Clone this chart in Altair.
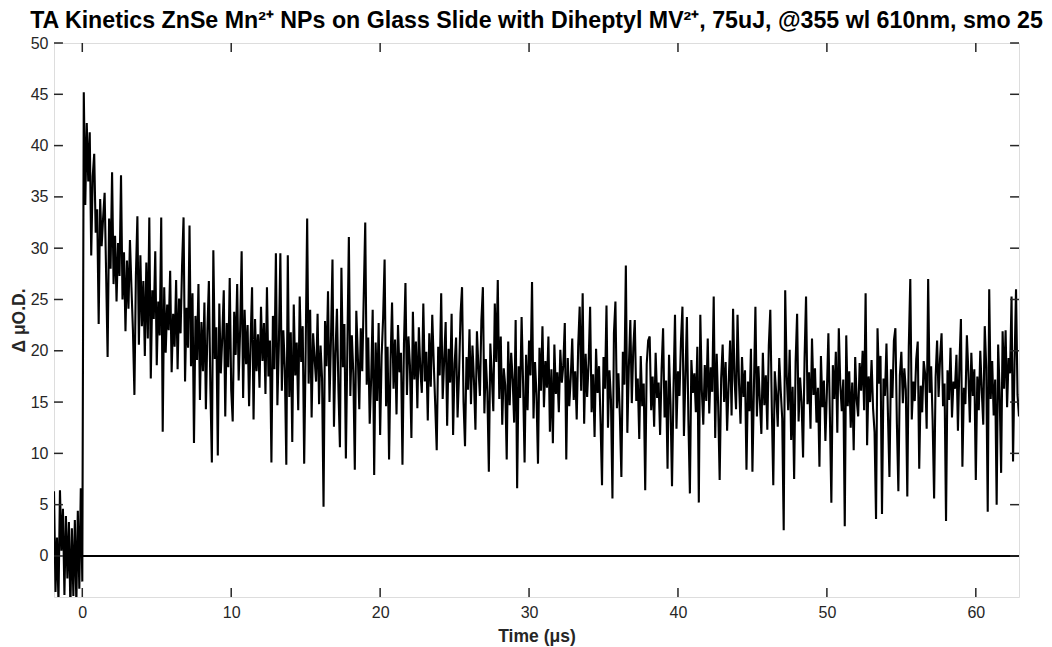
import altair as alt
import pandas as pd

title_text = "TA Kinetics ZnSe Mn²⁺ NPs on Glass Slide with Diheptyl MV²⁺, 75uJ, @355 wl 610nm, smo 25"
x_label = "Time (μs)"
y_label = "Δ μO.D."
x_ticks = [0, 10, 20, 30, 40, 50, 60]
y_ticks = [0, 5, 10, 15, 20, 25, 30, 35, 40, 45, 50]
x_domain = [-1.9, 62.9]
y_domain = [-4, 50]
dt = 0.1

# (start time in µs, Δ µO.D. values sampled every dt)
od_rows = [
    (-1.9, [6.3, -3.5, 1.8, -4.5, 6.4, 0.5, 4.6, -3.8, 3.9, -2.2]),
    (-0.9, [3.3, -5.0, 2.7, -3.9, 3.5, -4.6, 4.4, -3.2, 6.6, -2.5]),
    (0.1, [45.2, 34.2, 42.2, 36.5, 41.3, 29.3, 37.0, 39.2, 31.5, 33.8]),
    (1.1, [22.6, 34.8, 30.2, 33.0, 35.4, 27.5, 19.4, 32.9, 28.0, 37.4]),
    (2.1, [26.5, 31.2, 24.8, 30.5, 27.3, 37.1, 25.0, 29.6, 21.9, 28.8]),
    (3.1, [24.1, 30.8, 26.2, 22.0, 15.7, 27.4, 33.1, 20.6, 29.3, 22.4]),
    (4.1, [26.8, 19.5, 28.6, 21.2, 33.0, 17.3, 25.9, 23.1, 29.7, 18.6]),
    (5.1, [24.8, 21.5, 33.0, 12.1, 26.2, 19.8, 24.5, 22.0, 27.8, 17.9]),
    (6.1, [23.6, 20.4, 26.9, 18.2, 25.1, 21.7, 28.3, 33.0, 17.0, 24.2]),
    (7.1, [20.3, 32.2, 18.5, 25.6, 11.0, 23.4, 19.1, 26.5, 15.2, 22.8]),
    (8.1, [18.0, 24.7, 14.3, 21.9, 26.8, 16.5, 9.1, 29.8, 19.2, 22.3]),
    (9.1, [9.8, 24.6, 17.8, 21.3, 25.9, 13.6, 22.7, 18.4, 27.1, 16.2]),
    (10.1, [13.1, 23.8, 19.6, 26.5, 17.1, 22.1, 29.7, 15.4, 24.0, 18.7]),
    (11.1, [22.5, 14.6, 20.9, 26.2, 13.3, 23.1, 18.0, 21.6, 16.4, 24.3]),
    (12.1, [19.0, 22.7, 15.8, 26.2, 17.5, 21.0, 9.1, 23.4, 18.2, 29.5]),
    (13.1, [14.7, 20.6, 29.5, 16.1, 22.0, 18.3, 8.9, 29.3, 15.5, 21.8]),
    (14.1, [11.1, 24.5, 17.6, 20.8, 14.2, 25.3, 18.9, 22.4, 9.0, 20.1]),
    (15.1, [32.9, 16.8, 24.0, 13.5, 21.7, 19.2, 17.0, 23.6, 14.8, 20.5]),
    (16.1, [17.3, 4.8, 22.9, 18.5, 25.8, 15.0, 21.2, 28.9, 12.6, 19.7]),
    (17.1, [24.1, 16.2, 10.6, 28.1, 18.4, 22.6, 9.5, 20.3, 31.1, 15.6]),
    (18.1, [21.5, 17.8, 8.4, 23.9, 19.6, 14.3, 22.2, 18.0, 25.4, 32.5]),
    (19.1, [16.7, 21.3, 12.9, 17.4, 24.0, 7.9, 20.8, 15.1, 22.7, 11.8]),
    (20.1, [19.5, 23.2, 28.9, 14.6, 20.4, 9.4, 18.9, 24.7, 16.3, 21.1]),
    (21.1, [13.8, 22.5, 17.9, 19.8, 8.9, 20.6, 26.6, 15.7, 21.4, 18.6]),
    (22.1, [11.5, 23.8, 17.2, 20.9, 14.4, 22.3, 18.1, 15.9, 24.6, 17.0]),
    (23.1, [19.9, 13.2, 21.7, 16.5, 23.5, 18.8, 14.7, 10.3, 20.4, 17.6]),
    (24.1, [25.6, 15.3, 19.1, 22.8, 12.7, 20.2, 16.9, 23.6, 11.8, 18.7]),
    (25.1, [21.3, 13.5, 17.8, 23.6, 26.2, 15.0, 10.7, 19.4, 16.2, 22.1]),
    (26.1, [14.8, 20.5, 17.1, 12.3, 21.9, 18.4, 15.6, 23.0, 26.2, 13.9]),
    (27.1, [19.2, 16.0, 8.2, 20.7, 17.5, 14.1, 24.6, 18.9, 26.9, 15.3]),
    (28.1, [21.4, 12.8, 18.3, 16.6, 9.4, 20.9, 14.7, 19.8, 17.2, 13.0]),
    (29.1, [23.0, 6.6, 18.5, 15.4, 23.3, 16.8, 9.1, 19.6, 14.2, 21.0]),
    (30.1, [17.6, 26.7, 13.4, 18.9, 15.7, 9.0, 20.3, 16.1, 22.4, 14.5]),
    (31.1, [19.0, 16.4, 21.4, 12.1, 18.2, 11.0, 20.6, 15.8, 17.9, 14.0]),
    (32.1, [20.1, 16.9, 18.6, 22.7, 9.4, 19.3, 14.6, 17.4, 21.2, 15.2]),
    (33.1, [18.0, 13.3, 20.5, 24.3, 16.1, 25.6, 12.9, 19.7, 15.5, 18.8]),
    (34.1, [24.3, 14.0, 17.7, 11.6, 20.2, 15.9, 18.5, 13.1, 6.9, 19.4]),
    (35.1, [16.3, 24.4, 12.5, 18.1, 15.2, 5.6, 21.7, 24.8, 14.4, 17.8]),
    (36.1, [13.6, 7.7, 19.9, 16.7, 28.3, 12.0, 18.4, 23.0, 14.9, 20.3]),
    (37.1, [23.0, 15.1, 17.3, 11.4, 19.5, 14.6, 16.8, 6.4, 18.7, 21.0]),
    (38.1, [21.4, 14.2, 17.5, 12.6, 19.8, 15.4, 16.9, 11.8, 18.2, 22.2]),
    (39.1, [13.5, 17.1, 8.5, 19.6, 14.8, 6.8, 16.3, 23.5, 12.4, 18.0]),
    (40.1, [15.6, 20.9, 24.3, 11.7, 17.4, 23.3, 13.2, 6.1, 19.1, 15.9]),
    (41.1, [17.8, 14.0, 20.4, 5.2, 23.5, 16.2, 12.8, 18.6, 15.1, 21.2]),
    (42.1, [13.9, 18.4, 16.0, 25.3, 11.5, 19.7, 14.6, 7.4, 17.3, 20.6]),
    (43.1, [15.0, 18.9, 12.2, 16.6, 21.0, 13.7, 24.1, 17.2, 14.3, 23.5]),
    (44.1, [16.8, 12.9, 19.4, 15.5, 18.1, 8.4, 17.0, 14.1, 20.2, 8.2]),
    (45.1, [16.4, 24.3, 13.6, 18.5, 15.1, 11.9, 19.8, 14.7, 17.6, 12.3]),
    (46.1, [20.5, 24.0, 14.5, 6.9, 18.0, 15.8, 12.6, 19.3, 16.1, 13.4]),
    (47.1, [2.5, 25.9, 17.7, 14.2, 20.1, 11.3, 16.5, 7.5, 18.9, 23.6]),
    (48.1, [13.1, 17.4, 15.0, 9.6, 19.2, 25.3, 14.8, 17.9, 12.4, 21.2]),
    (49.1, [15.7, 18.3, 13.0, 16.4, 8.7, 19.5, 14.5, 17.1, 11.2, 16.0]),
    (50.1, [21.7, 13.8, 5.2, 18.6, 15.3, 19.9, 12.0, 22.2, 16.7, 14.1]),
    (51.1, [17.2, 2.9, 21.5, 14.6, 18.0, 12.5, 16.9, 10.3, 19.4, 15.2]),
    (52.1, [13.6, 18.8, 16.1, 20.0, 14.2, 25.6, 10.8, 17.5, 15.0, 19.1]),
    (53.1, [14.4, 12.1, 3.6, 22.2, 16.8, 19.5, 4.1, 17.3, 15.6, 20.7]),
    (54.1, [13.8, 7.7, 18.2, 15.4, 21.0, 22.2, 12.9, 6.3, 17.6, 19.9]),
    (55.1, [14.9, 18.3, 16.2, 5.8, 20.4, 27.0, 13.3, 17.0, 15.1, 19.2]),
    (56.1, [20.9, 8.5, 16.6, 14.0, 19.0, 17.7, 12.4, 27.0, 15.9, 18.5]),
    (57.1, [13.2, 5.6, 17.4, 21.0, 15.5, 19.3, 21.7, 14.6, 16.8, 3.4]),
    (58.1, [18.1, 15.2, 20.3, 13.5, 17.0, 16.3, 19.6, 12.2, 18.7, 23.1]),
    (59.1, [8.7, 16.4, 14.8, 21.5, 17.9, 13.0, 19.8, 15.6, 18.2, 7.4]),
    (60.1, [17.5, 14.2, 20.0, 16.1, 12.8, 22.4, 18.4, 4.3, 26.0, 15.3]),
    (61.1, [19.0, 13.7, 17.2, 5.0, 20.6, 15.9, 8.1, 21.9, 16.3, 22.0]),
    (62.1, [14.5, 19.3, 17.8, 25.3, 9.2, 18.6, 26.0, 15.7, 13.6]),
]

t_vals, od_vals = [], []
for start, vals in od_rows:
    for k, v in enumerate(vals):
        t_vals.append(round(start + dt * k, 3))
        od_vals.append(v)
df = pd.DataFrame({"t": t_vals, "od": od_vals})

FONT = "Liberation Sans"
INK = "#262626"

xs = alt.Scale(domain=x_domain, nice=False, zero=False)
ys = alt.Scale(domain=y_domain, nice=False, zero=False)

x_axis = alt.Axis(values=x_ticks, ticks=False, domain=False, grid=False,
                  labelPadding=7, labelFontSize=16, labelFont=FONT, labelColor=INK,
                  title=x_label, titleFont=FONT, titleFontSize=17.5, titleFontWeight="bold",
                  titleColor=INK, titlePadding=7, format="d")
y_axis = alt.Axis(values=y_ticks, ticks=False, domain=False, grid=False,
                  labelPadding=6, labelFontSize=16, labelFont=FONT, labelColor=INK,
                  title=y_label, titleFont=FONT, titleFontSize=17.5, titleFontWeight="bold",
                  titleColor=INK, titlePadding=2, format="d")

line = alt.Chart(df).mark_line(color="black", strokeWidth=2.1, clip=True).encode(
    x=alt.X("t:Q", scale=xs, axis=x_axis),
    y=alt.Y("od:Q", scale=ys, axis=y_axis),
)

zero_df = pd.DataFrame({"t": [0.0], "t2": [x_domain[1]], "od": [0.0]})
zero_line = alt.Chart(zero_df).mark_rule(color="black", strokeWidth=2).encode(
    x=alt.X("t:Q", scale=xs), x2="t2:Q", y=alt.Y("od:Q", scale=ys)
)

# inward tick marks (MATLAB box style), lengths in data units
xlen = 0.88
ylen = 0.6
xt_df = pd.DataFrame({"t": x_ticks * 2,
                      "y1": [y_domain[0]] * len(x_ticks) + [y_domain[1]] * len(x_ticks),
                      "y2": [y_domain[0] + xlen] * len(x_ticks) + [y_domain[1] - xlen] * len(x_ticks)})
yt_df = pd.DataFrame({"od": y_ticks * 2,
                      "x1": [x_domain[0]] * len(y_ticks) + [x_domain[1]] * len(y_ticks),
                      "x2": [x_domain[0] + ylen] * len(y_ticks) + [x_domain[1] - ylen] * len(y_ticks)})
xticks = alt.Chart(xt_df).mark_rule(color=INK, strokeWidth=1.5).encode(
    x=alt.X("t:Q", scale=xs), y=alt.Y("y1:Q", scale=ys), y2="y2:Q")
yticks = alt.Chart(yt_df).mark_rule(color=INK, strokeWidth=1.5).encode(
    y=alt.Y("od:Q", scale=ys), x=alt.X("x1:Q", scale=xs), x2="x2:Q")

chart = alt.layer(line, zero_line, xticks, yticks).properties(
    width=965, height=554,
    title=alt.TitleParams(title_text, font=FONT, fontSize=23.2, fontWeight="bold",
                          color="black", offset=2, anchor="middle"),
    autosize=alt.AutoSizeParams(type="none"),
    padding={"left": 46, "top": 35, "right": 25, "bottom": 50},
).configure_view(stroke=INK, strokeWidth=1.5).configure(background="white")

chart.save("out.html", embed_options={"renderer": "svg", "actions": False})
